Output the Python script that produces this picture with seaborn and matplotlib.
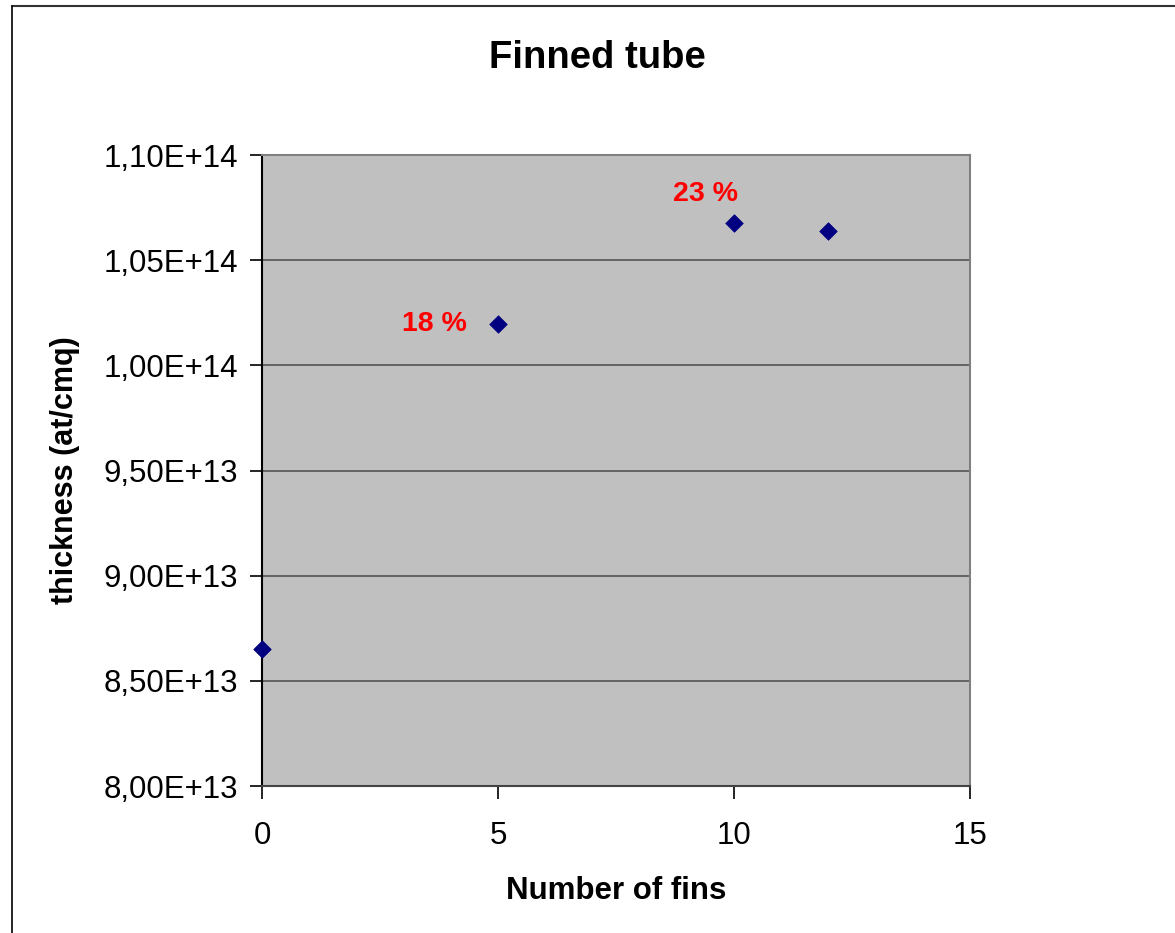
import matplotlib
matplotlib.use("Agg")
import matplotlib.pyplot as plt
import seaborn as sns
import pandas as pd
from matplotlib.lines import Line2D

fins = [0, 5, 10, 12]
thickness = [8.65e13, 1.0197e14, 1.0679e14, 1.0639e14]
annot_text = ["18 %", "23 %"]
annot_x = [3.65, 9.4]
annot_y = [1.0195e14, 1.0814e14]
y_ticks = [8.0e13, 8.5e13, 9.0e13, 9.5e13, 1.0e14, 1.05e14, 1.10e14]
y_tick_labels = ["8,00E+13", "8,50E+13", "9,00E+13", "9,50E+13", "1,00E+14", "1,05E+14", "1,10E+14"]
x_ticks = [0, 5, 10, 15]

sns.set_style("white")
plt.rcParams['font.family'] = ['Liberation Sans', 'DejaVu Sans']
plt.rcParams['text.color'] = 'black'
plt.rcParams['axes.labelcolor'] = 'black'

df = pd.DataFrame({"fins": fins, "thickness": thickness})

fig = plt.figure(figsize=(11.75, 9.33), dpi=100)
W, H = 1175, 933
ax = fig.add_axes([262 / W, 1 - 786 / H, (970 - 262) / W, (786 - 155) / H])
ax.set_facecolor("#C0C0C0")

sns.scatterplot(data=df, x="fins", y="thickness", marker="D", s=80,
                color="#000080", edgecolor="#000080", linewidth=0.5, ax=ax, zorder=3, clip_on=False)

ax.set_xlim(0, 15)
ax.set_ylim(8.0e13, 1.10e14)
ax.set_xticks(x_ticks)
ax.set_xticklabels([str(t) for t in x_ticks])
ax.set_yticks(y_ticks)
ax.set_yticklabels(y_tick_labels)
ax.grid(axis="y", color="#555555", linewidth=1.2)
ax.grid(axis="x", visible=False)
ax.set_axisbelow(True)

ax.tick_params(axis="both", which="major", direction="out", length=9, width=1.2,
               colors="black", labelcolor="black", labelsize=22.5, left=True, bottom=True)
ax.tick_params(axis="x", pad=16)
ax.tick_params(axis="y", pad=8)

ax.spines["left"].set_color("black")
ax.spines["left"].set_linewidth(1.5)
ax.spines["bottom"].set_color("#444444")
ax.spines["bottom"].set_linewidth(1.5)
ax.spines["top"].set_color("#808080")
ax.spines["top"].set_linewidth(1.5)
ax.spines["right"].set_color("#808080")
ax.spines["right"].set_linewidth(1.5)

ax.set_xlabel("Number of fins", fontsize=22.5, fontweight="bold", labelpad=18, color="black")
ax.set_ylabel("thickness (at/cmq)", fontsize=22, fontweight="bold", labelpad=17, color="black")
fig.text(597 / W, 1 - 58 / H, "Finned tube", ha="center", va="center", fontsize=27.5,
         fontweight="bold", color="black")

for t, xv, yv in zip(annot_text, annot_x, annot_y):
    ax.text(xv, yv, t, color="red", fontsize=20.5, fontweight="bold", ha="center", va="center")

# outer chart border
fig.add_artist(Line2D([12 / W, 1], [1 - 6 / H, 1 - 6 / H], transform=fig.transFigure, color="#333333", linewidth=1.5))
fig.add_artist(Line2D([12 / W, 12 / W], [1 - 6 / H, 0], transform=fig.transFigure, color="black", linewidth=1.2))

fig.savefig("out.png", dpi=100)
